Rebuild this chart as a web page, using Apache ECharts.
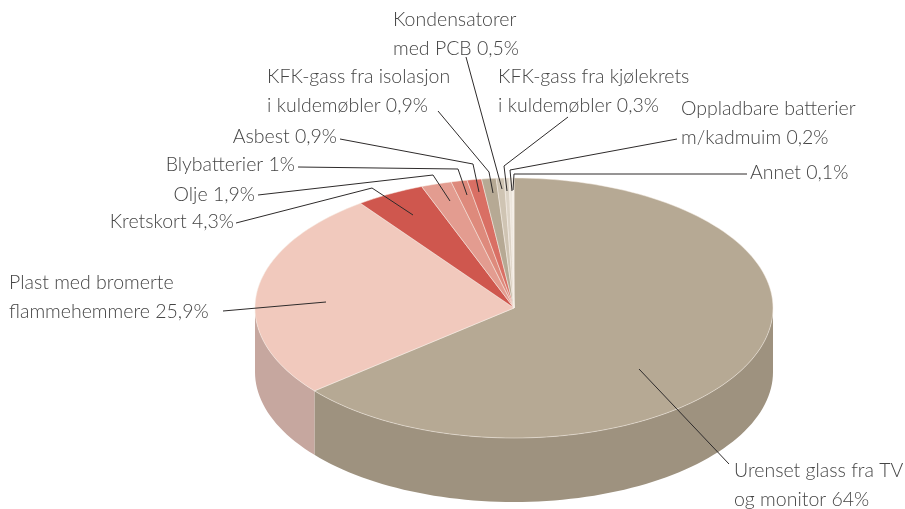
<!DOCTYPE html>
<html>
<head>
<meta charset="utf-8">
<style>
  html, body { margin: 0; padding: 0; background: #fff; }
  #chart { width: 905px; height: 509px; }
</style>
</head>
<body>
<div id="chart"></div>
<script src="https://cdn.jsdelivr.net/npm/echarts@6/dist/echarts.min.js"></script>
<script>
const categories = [
  'Urenset glass fra TV\nog monitor', 'Plast med bromerte\nflammehemmere', 'Kretskort', 'Olje',
  'Blybatterier', 'Asbest', 'KFK-gass fra isolasjon\ni kuldemøbler', 'Kondensatorer\nmed PCB',
  'KFK-gass fra kjølekrets\ni kuldemøbler', 'Oppladbare batterier\nm/kadmuim', 'Annet'
]
const shares = [64, 25.9, 4.3, 1.9, 1, 0.9, 0.9, 0.5, 0.3, 0.2, 0.1]

const topColors = ['#b6a994', '#f1c9bd', '#cf574e', '#e39c90', '#de8a7c', '#d96f64', '#b6a994', '#cfc4b3', '#dcd3c6', '#ece6dd', '#f3efe9']
const wallColors = { 0: '#9e927f', 1: '#c6a79f' }

// pie shape on screen
const cx = 514
const cy = 308
const rx = 259
const squash = 130 / 259
const depth = 64

// label anchor [x, y, align] and leader polyline, same order as categories
const labelPos = [
  [734, 456, 'left'], [9, 268, 'left'], [234, 207, 'right'], [255, 180, 'right'],
  [295, 150, 'right'], [337, 122, 'right'], [267, 62, 'left'], [393, 5, 'left'],
  [498, 62, 'left'], [681, 94, 'left'], [750, 158, 'left']
]
const leaders = [
  [[639, 369], [729, 464]],
  [[223, 311], [326, 302]],
  [[236, 223], [372, 188], [413, 215]],
  [[258, 195], [433, 175], [450, 201]],
  [[298, 167], [458, 169], [467, 195]],
  [[340, 139], [473, 164], [479, 192]],
  [[438, 111], [489, 172], [493, 193]],
  [[466, 57], [502, 189]],
  [[568, 117], [504, 166], [507, 191]],
  [[677, 139], [510, 170], [512, 191]],
  [[747, 174], [514, 174], [513, 190]]
]

let acc = 0
const sliceRows = shares.map((v, i) => {
  const row = [1, acc, v, i]
  acc += v
  return row
})

// walk along the rim through the polar axis, then flatten it to an ellipse
const rimPoints = (api, from, to) => {
  const pts = []
  const steps = Math.max(2, Math.ceil((to - from) * 2))
  for (let s = 0; s <= steps; s++) {
    const p = api.coord([1, from + (to - from) * s / steps])
    pts.push([p[0], cy + (p[1] - cy) * squash])
  }
  return pts
}

const renderTop = (params, api) => {
  const start = api.value(1)
  const pts = rimPoints(api, start, start + api.value(2))
  pts.push([cx, cy])
  return {
    type: 'polygon',
    shape: { points: pts },
    style: { fill: topColors[api.value(3)], stroke: '#f6efe6', lineWidth: 0.5 }
  }
}

const renderWall = (params, api) => {
  const start = api.value(1)
  // only the front half of the rim can be seen
  const from = Math.max(start, 25)
  const to = Math.min(start + api.value(2), 75)
  if (to <= from) return null
  const upper = rimPoints(api, from, to)
  const lower = upper.map((p) => [p[0], p[1] + depth]).reverse()
  return {
    type: 'polygon',
    shape: { points: upper.concat(lower) },
    style: { fill: wallColors[api.value(3)] }
  }
}

const renderLeader = (params, api) => ({
  type: 'polyline',
  shape: { points: leaders[api.value(0)] },
  style: { fill: null, stroke: '#2e2b2b', lineWidth: 1 }
})

const renderLabel = (params, api) => {
  const i = api.value(0)
  const pos = labelPos[i]
  return {
    type: 'text',
    style: {
      x: pos[0],
      y: pos[1],
      text: `${categories[i]} ${String(shares[i]).replace('.', ',')}%`,
      fill: '#454545',
      font: '300 19.5px Lato',
      lineHeight: 29,
      align: pos[2],
      verticalAlign: 'top'
    }
  }
}

const indexRows = categories.map((c, i) => [i])

const chart = echarts.init(document.getElementById('chart'), null, { renderer: 'canvas' })
chart.setOption({
  animation: false,
  backgroundColor: '#fff',
  polar: { center: [cx, cy], radius: rx },
  angleAxis: { min: 0, max: 100, startAngle: 90, clockwise: true, show: false },
  radiusAxis: { min: 0, max: 1, show: false },
  series: [
    { type: 'custom', coordinateSystem: 'polar', silent: true, z: 1, renderItem: renderWall, data: sliceRows },
    { type: 'custom', coordinateSystem: 'polar', silent: true, z: 2, renderItem: renderTop, data: sliceRows },
    { type: 'custom', coordinateSystem: 'none', silent: true, z: 3, renderItem: renderLeader, data: indexRows },
    { type: 'custom', coordinateSystem: 'none', silent: true, z: 4, renderItem: renderLabel, data: indexRows }
  ]
})
</script>
</body>
</html>
